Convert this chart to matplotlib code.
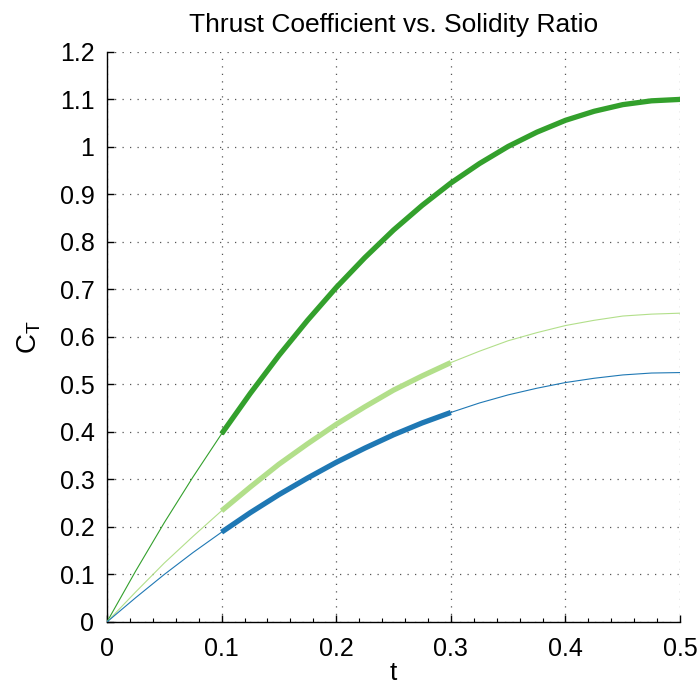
import matplotlib
matplotlib.use("Agg")
import matplotlib.pyplot as plt
from matplotlib.ticker import MultipleLocator

# solidity ratio samples
t = [0, 0.025, 0.05, 0.075, 0.1, 0.125, 0.15, 0.175, 0.2, 0.225, 0.25,
     0.275, 0.3, 0.325, 0.35, 0.375, 0.4, 0.425, 0.45, 0.475, 0.5]

# thrust coefficient curves
ct_dark = [0, 0.107, 0.209, 0.305, 0.396, 0.481, 0.561, 0.635, 0.704, 0.767, 0.825,
           0.877, 0.924, 0.965, 1.001, 1.031, 1.056, 1.075, 1.089, 1.097, 1.100]
ct_light = [0, 0.063, 0.124, 0.180, 0.234, 0.284, 0.332, 0.375, 0.416, 0.453, 0.488,
            0.518, 0.546, 0.570, 0.592, 0.609, 0.624, 0.635, 0.644, 0.648, 0.650]
ct_blue = [0, 0.051, 0.100, 0.146, 0.189, 0.230, 0.268, 0.303, 0.336, 0.366, 0.394,
           0.419, 0.441, 0.461, 0.478, 0.492, 0.504, 0.513, 0.520, 0.524, 0.525]

# thick (valid) range for each curve, as index into t
thick_dark = (4, 20)
thick_light = (4, 12)
thick_blue = (4, 12)

xticks = [0, 0.1, 0.2, 0.3, 0.4, 0.5]
xticklabels = ["0", "0.1", "0.2", "0.3", "0.4", "0.5"]
yticks = [0, 0.1, 0.2, 0.3, 0.4, 0.5, 0.6, 0.7, 0.8, 0.9, 1.0, 1.1, 1.2]
yticklabels = ["0", "0.1", "0.2", "0.3", "0.4", "0.5", "0.6", "0.7", "0.8", "0.9", "1", "1.1", "1.2"]

plt.rcParams["font.family"] = ["Liberation Sans", "DejaVu Sans"]
plt.rcParams["mathtext.default"] = "regular"

fig = plt.figure(figsize=(6.99, 6.91), dpi=100)
ax = fig.add_axes([0.153, 0.0999, 0.820, 0.825])

curves = [(ct_dark, "#33a02c", thick_dark),
          (ct_light, "#b2df8a", thick_light),
          (ct_blue, "#1f78b4", thick_blue)]

# thin full-range lines first, then the thick segments on top
for ct, color, (i0, i1) in curves:
    ax.plot(t, ct, color=color, lw=0.8, zorder=3)
for ct, color, (i0, i1) in curves:
    ax.plot(t[i0:i1 + 1], ct[i0:i1 + 1], color=color, lw=3.8, zorder=4,
            solid_capstyle="butt", solid_joinstyle="round")

ax.set_xlim(0, 0.5)
ax.set_ylim(0, 1.2)
ax.set_xticks(xticks)
ax.set_xticklabels(xticklabels)
ax.set_yticks(yticks)
ax.set_yticklabels(yticklabels)
ax.xaxis.set_minor_locator(MultipleLocator(0.02))

ax.spines["top"].set_visible(False)
ax.spines["right"].set_visible(False)
ax.spines["left"].set_linewidth(1.0)
ax.spines["bottom"].set_linewidth(1.0)
ax.tick_params(which="major", direction="in", length=5, width=1.0, labelsize=18)
ax.tick_params(axis="x", which="major", pad=11)
ax.tick_params(axis="y", which="major", pad=9)
ax.tick_params(which="minor", direction="in", length=3, width=0.8)

ax.grid(True, which="major", color="#555555", linestyle=(0, (1, 5)), linewidth=0.9)

ax.set_xlabel("t", fontsize=19, labelpad=0)
ax.set_ylabel(r"C$_\mathregular{T}$", fontsize=20, labelpad=12)
ax.set_title("Thrust Coefficient vs. Solidity Ratio", fontsize=19, pad=14)

fig.savefig("out.png", dpi=100)
